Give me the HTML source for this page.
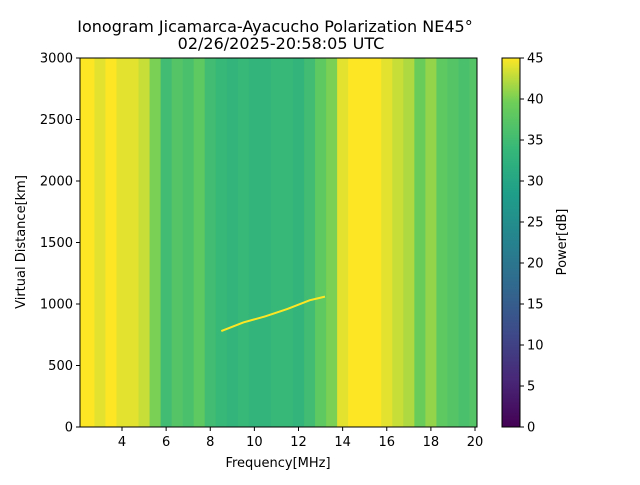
<!DOCTYPE html>
<html><head><meta charset="utf-8"><style>
body{margin:0;background:#fff;}
svg text{font-family:"DejaVu Sans","Liberation Sans",sans-serif;fill:#000;}
</style></head><body>
<svg id="chart" width="640" height="480" xmlns="http://www.w3.org/2000/svg">
<text x="275" y="32" font-size="16" text-anchor="middle">Ionogram Jicamarca-Ayacucho Polarization NE45°</text>
<text x="281" y="49" font-size="16" text-anchor="middle">02/26/2025-20:58:05 UTC</text>
<g id="heat"></g>
<g id="trace"></g>
<rect x="80" y="58" width="397" height="369" fill="none" stroke="#000" stroke-width="1"/>
<g id="xaxis"></g>
<g id="yaxis"></g>
<text x="278" y="467" font-size="13" text-anchor="middle">Frequency[MHz]</text>
<text transform="translate(25,242) rotate(-90)" font-size="13" text-anchor="middle">Virtual Distance[km]</text>
<defs><linearGradient id="vir" x1="0" y1="1" x2="0" y2="0">
<stop offset="0" stop-color="#440154"/><stop offset="0.13" stop-color="#482878"/><stop offset="0.25" stop-color="#3e4989"/><stop offset="0.38" stop-color="#31688e"/><stop offset="0.5" stop-color="#26828e"/><stop offset="0.63" stop-color="#1f9e89"/><stop offset="0.75" stop-color="#35b779"/><stop offset="0.88" stop-color="#6ece58"/><stop offset="1" stop-color="#fde725"/></linearGradient></defs>
<rect x="502" y="58" width="18" height="369" fill="url(#vir)" stroke="#000" stroke-width="1"/>
<g id="cbaxis"></g>
<text transform="translate(566,242) rotate(-90)" font-size="13" text-anchor="middle">Power[dB]</text>
</svg>
<script>
const freqBins=[2.0,2.5,3.0,3.5,4.0,4.5,5.0,5.5,6.0,6.5,7.0,7.5,8.0,8.5,9.0,9.5,10.0,10.5,11.0,11.5,12.0,12.5,13.0,13.5,14.0,14.5,15.0,15.5,16.0,16.5,17.0,17.5,18.0,18.5,19.0,19.5,20.0];
const powerValues=[45,45,44,45,44,44,43,40,35,37,36,38,35,34,33,34,33,33,34,34,33,35,38,40,44,45,45,45,44,43,42,39,41,38,37,36,37];
const traceFreq=[8.5,9.5,10.5,11.5,12.5,13.2];
const traceHeight=[780,850,900,960,1030,1060];
const xTicks=[4,6,8,10,12,14,16,18,20];
const yTicks=[0,500,1000,1500,2000,2500,3000];
const cTicks=[0,5,10,15,20,25,30,35,40,45];
const NS='http://www.w3.org/2000/svg';
const X=f=>80+(f-2.096)*(397/(20.09-2.096));
const Y=h=>427-h*369/3000;
const C=v=>427-v*369/45;
const stops=[[0,[68,1,84]],[0.13,[72,40,120]],[0.25,[62,73,137]],[0.38,[49,104,142]],[0.5,[38,130,142]],[0.63,[31,158,137]],[0.75,[53,183,121]],[0.88,[110,206,88]],[1,[253,231,37]]];
function vir(v){let t=Math.max(0,Math.min(1,v/45));for(let i=1;i<stops.length;i++){if(t<=stops[i][0]){const a=stops[i-1],b=stops[i],u=(t-a[0])/(b[0]-a[0]);return 'rgb('+a[1].map((c,k)=>Math.round(c+(b[1][k]-c)*u)).join(',')+')';}}return 'rgb(253,231,37)';}
function el(tag,attrs,parent){const e=document.createElementNS(NS,tag);for(const k in attrs)e.setAttribute(k,attrs[k]);parent.appendChild(e);return e;}
const heat=document.getElementById('heat');
freqBins.forEach((f,i)=>{
 const x0=Math.max(80,X(f-0.25)),x1=Math.min(477,X(f+0.25));
 if(x1<=x0)return;
 const r=el('rect',{x:x0,y:58,width:x1-x0+0.5,height:369,fill:vir(powerValues[i])},heat);
 
 
});
const tr=document.getElementById('trace');
const p=el('polyline',{points:traceFreq.map((f,i)=>X(f)+','+Y(traceHeight[i])).join(' '),fill:'none',stroke:'#fde725','stroke-width':2},tr);


const xa=document.getElementById('xaxis');
xTicks.forEach(t=>{el('line',{x1:X(t),x2:X(t),y1:427,y2:431,stroke:'#000'},xa);const s=el('text',{x:X(t),y:446,'font-size':13,'text-anchor':'middle'},xa);s.textContent=t;
 
 });
const ya=document.getElementById('yaxis');
yTicks.forEach(t=>{el('line',{x1:76,x2:80,y1:Y(t),y2:Y(t),stroke:'#000'},ya);const s=el('text',{x:73,y:Y(t)+4.5,'font-size':13,'text-anchor':'end'},ya);s.textContent=t;
 
 });
const ca=document.getElementById('cbaxis');
cTicks.forEach(t=>{el('line',{x1:520,x2:524,y1:C(t),y2:C(t),stroke:'#000'},ca);const s=el('text',{x:527,y:C(t)+4.5,'font-size':13},ca);s.textContent=t;
 
 });
</script>
</body></html>
